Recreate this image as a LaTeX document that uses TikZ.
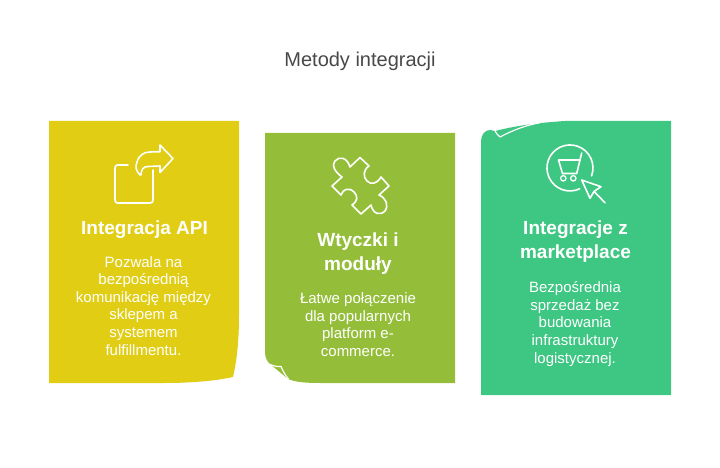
\documentclass[tikz,border=0pt]{standalone}
\usepackage{fontspec}
\setmainfont{Liberation Sans}
\definecolor{cyel}{HTML}{E0CD14}
\definecolor{cgrn}{HTML}{94BE3A}
\definecolor{cmnt}{HTML}{3EC683}
\definecolor{ctitle}{HTML}{484848}
\tikzset{
 head/.style={text=white,font=\fontsize{19}{24}\selectfont\bfseries,align=center,inner sep=0pt},
 body/.style={text=white,font=\fontsize{15}{17.6}\selectfont,align=center,inner sep=0pt},
 ttl/.style={text=ctitle,font=\fontsize{20}{24}\selectfont,inner sep=0pt},
 icon/.style={draw=white,line width=1.6pt,line join=round,line cap=round,fill=none},
 fold/.style={draw=white,line width=1.2pt,line join=round}
}
\begin{document}
\begin{tikzpicture}[x=1pt,y=-1pt]
\useasboundingbox (0,0) rectangle (720,468);
\node[ttl] (title) at (360,61) {Metody integracji};
% card 1
\fill[cyel] (49,121) -- (239,121) -- (239,315) .. controls (239,340) and (237,360) .. (233,377) .. controls (215,381) and (190,383) .. (165,383) -- (49,383) -- cycle;
% card 2
\fill[cgrn] (265,133) -- (455,133) -- (455,383) -- (320,383) .. controls (305,383) and (295,382) .. (288,379) -- (270,364) .. controls (267,361) and (265,358) .. (265,352) -- cycle;
\draw[fold] (270,364.5) .. controls (274,366) and (278,367) .. (281,366.5) .. controls (283,371) and (285,375) .. (288.5,379);
% card 3
\fill[cmnt] (481,141) .. controls (481,135) and (485,130) .. (490,130) -- (495,131) .. controls (515,126) and (535,123) .. (565,121) -- (671,121) -- (671,395) -- (481,395) -- cycle;
\draw[fold] (495,131) .. controls (496,133) and (498,135.5) .. (500,137) .. controls (513,130) and (527,125) .. (540,122.7);
% icon API
\draw[icon] (128,165) -- (118,165) .. controls (116,165) and (115,166) .. (115,168) -- (115,200) .. controls (115,202) and (116,203) .. (118,203) -- (150,203) .. controls (152,203) and (153,202) .. (153,200) -- (153,170);
\draw[icon] (140,175) .. controls (136,171) and (135,167) .. (137,162) .. controls (139,155) and (144,152) .. (150,152) -- (160,151.7) -- (160,145) -- (173,158.5) -- (160,172.5) -- (160,166) -- (148,166.5) .. controls (144,166.5) and (141,169) .. (141,175);
\node[head] (h1) at (144.5,230) {Integracja API};
\node[body,anchor=north] (b1) at (143.5,256) {Pozwala na\\bezpośrednią\\komunikację między\\sklepem a\\systemem\\fulfillmentu.};
% icon puzzle
\draw[icon] (342,177) .. controls (335,172) and (331,165) .. (335,161) .. controls (339,156) and (347,157) .. (350,167) -- (360,157.5) -- (369,166) .. controls (363,170) and (363,177) .. (367,181) .. controls (371,185) and (377,184) .. (381,177) -- (389,186) -- (379,195) .. controls (386,198) and (389,205) .. (385,211) .. controls (380,216) and (373,214) .. (371,205) -- (361,214) -- (352,205) .. controls (358,201) and (358,196) .. (354,192) .. controls (349,187) and (343,189) .. (341,195) -- (332,186) -- cycle;
\node[head] (h2) at (358,254) {Wtyczki i\\moduły};
\node[body,anchor=north] (b2) at (358,292.5) {Łatwe połączenie\\dla popularnych\\platform e-\\commerce.};
% icon cart
\draw[icon] (579.7,188.8) arc[start angle=65,end angle=380,radius=23];
\draw[icon] (581.7,153) -- (576.7,173.5) -- (562.5,173.5) -- (558.5,160) -- (579,160);
\draw[icon,line width=1.3pt] (563.3,178.3) circle[radius=2.7] (573.3,178.3) circle[radius=2.7];
\draw[icon] (581.7,180) -- (601,186.7) -- (594,191.5) -- (590,198.3) -- cycle;
\draw[icon] (594.5,192) -- (605,202.7);
\node[head] (h3) at (575.5,242) {Integracje z\\marketplace};
\node[body,anchor=north] (b3) at (575,281.5) {Bezpośrednia\\sprzedaż bez\\budowania\\infrastruktury\\logistycznej.};
\end{tikzpicture}
\end{document}
